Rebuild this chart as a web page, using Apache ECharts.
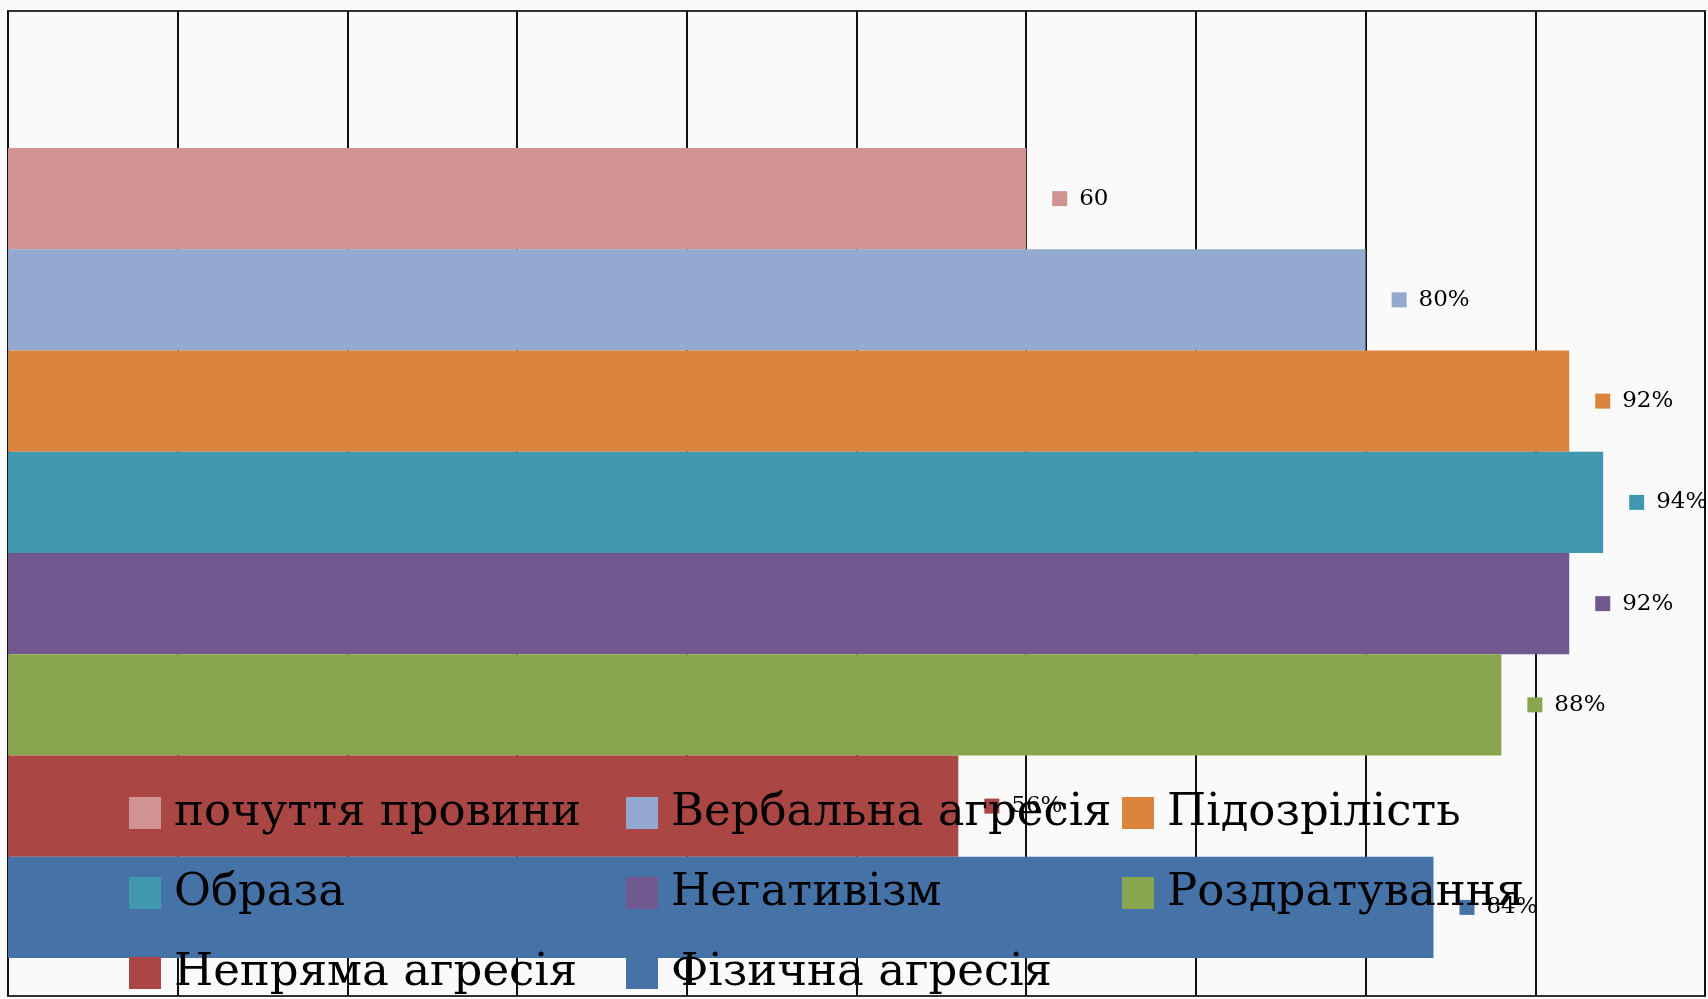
<!DOCTYPE html>
<html>
<head>
<meta charset="utf-8">
<script src="https://cdn.jsdelivr.net/npm/echarts@6/dist/echarts.min.js"></script>
<style>
html,body{margin:0;padding:0;background:#fafafa;}
#chart{width:1708px;height:999px;}
</style>
</head>
<body>
<div id="chart"></div>
<script>
// ---- data ----
const categories = [''];
const seriesNames = ['почуття провини', 'Вербальна агресія', 'Підозрілість', 'Образа', 'Негативізм', 'Роздратування', 'Непряма агресія', 'Фізична агресія'];
const seriesValues = [60, 80, 92, 94, 92, 88, 56, 84];
const valueLabels = ['60', '80%', '92%', '94%', '92%', '88%', '56%', '84%'];
const seriesColors = ['#D19392', '#93A9CF', '#DB843D', '#4198AF', '#71588F', '#89A54E', '#AA4643', '#4572A7'];
const legendColumns = [
  ['почуття провини', 'Образа', 'Непряма агресія'],
  ['Вербальна агресія', 'Негативізм', 'Фізична агресія'],
  ['Підозрілість', 'Роздратування']
];
const axisMin = 0, axisMax = 100, axisInterval = 10;

const FONT = 'DejaVu Serif';
const chart = echarts.init(document.getElementById('chart'), null, {renderer: 'canvas'});

const series = seriesNames.map((name, i) => ({
  name: name,
  type: 'bar',
  xAxisIndex: 1,
  yAxisIndex: 1,
  data: [seriesValues[i]],
  barGap: '0%',
  barCategoryGap: '0%',
  itemStyle: {color: seriesColors[i], borderColor: seriesColors[i], borderWidth: 1.5},
  label: {
    show: true,
    position: 'right',
    distance: 26,
    formatter: () => '{s|}{v|' + valueLabels[i] + '}',
    rich: {
      s: {width: 15, height: 15, backgroundColor: seriesColors[i]},
      v: {fontFamily: FONT, fontSize: 23, color: '#000', padding: [0, 0, 0, 12]}
    }
  }
}));

const legendLefts = [129, 626, 1122];
const legends = legendColumns.map((col, k) => ({
  data: col,
  orient: 'vertical',
  left: legendLefts[k],
  top: 788,
  padding: 0,
  itemGap: 30,
  itemWidth: 30,
  itemHeight: 30,
  icon: 'rect',
  selectedMode: false,
  textStyle: {fontFamily: FONT, fontSize: 45, lineHeight: 50, color: '#000', padding: [0, 0, 0, 9]}
}));

chart.setOption({
  backgroundColor: '#fafafa',
  animation: false,
  legend: legends,
  grid: [
    {left: 8, right: 3, top: 11, bottom: 3, show: true, borderColor: '#333', borderWidth: 2, backgroundColor: 'transparent'},
    {left: 8, right: 3, top: 148, bottom: 41}
  ],
  xAxis: [
    {gridIndex: 0, type: 'value', min: axisMin, max: axisMax, interval: axisInterval,
     axisLabel: {show: false}, axisTick: {show: false}, axisLine: {show: false},
     splitLine: {show: true, lineStyle: {color: '#111', width: 2}}},
    {gridIndex: 1, type: 'value', min: axisMin, max: axisMax, interval: axisInterval, show: false,
     splitLine: {show: false}}
  ],
  yAxis: [
    {gridIndex: 0, type: 'category', data: categories, show: false},
    {gridIndex: 1, type: 'category', data: categories, show: false}
  ],
  series: series
});
</script>
</body>
</html>
